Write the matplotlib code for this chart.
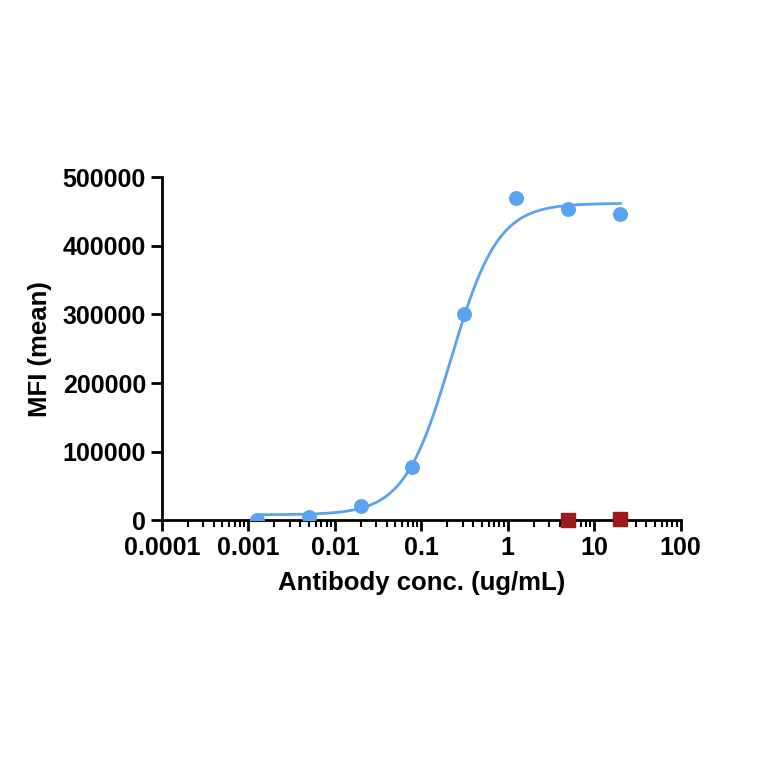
import numpy as np
import matplotlib.pyplot as plt
from matplotlib.ticker import LogLocator, FixedLocator

plt.rcParams['font.family'] = ['Liberation Sans', 'DejaVu Sans']
plt.rcParams['font.weight'] = 'bold'

conc = [0.00125, 0.005, 0.02, 0.078, 0.31, 1.25, 5.0, 20]
mfi = [1000, 5000, 21000, 78000, 300000, 470000, 453000, 447000]
ctrl_conc = [5.0, 20]
ctrl_mfi = [0, 1500]

# 4PL fit parameters
bottom, top, ec50, hill = 8000, 462000, 0.22, 1.6

fig = plt.figure(figsize=(7.64, 7.64), dpi=100)
ax = fig.add_axes([0.212, 0.319, 0.679, 0.449])

xc = np.logspace(np.log10(conc[0]), np.log10(conc[-1]), 300)
yc = bottom + (top - bottom) / (1 + (ec50 / xc) ** hill)
ax.plot(xc, yc, color='#5ba3f0', lw=2)
ax.scatter(conc, mfi, s=95, color='#5ba3f0', zorder=3)
ax.scatter(ctrl_conc, ctrl_mfi, s=95, marker='s', color='#9b1c1c', zorder=4, clip_on=False)

ax.set_xscale('log')
ax.set_xlim(0.0001, 100)
ax.set_ylim(0, 500000)
ax.set_xticks([0.0001, 0.001, 0.01, 0.1, 1, 10, 100])
ax.set_xticklabels(['0.0001', '0.001', '0.01', '0.1', '1', '10', '100'])
ax.xaxis.set_minor_locator(LogLocator(base=10, subs=np.arange(2, 10)))
ax.set_yticks(np.arange(0, 500001, 100000))
ax.set_yticklabels([str(v) for v in range(0, 500001, 100000)])

for s in ['top', 'right']:
    ax.spines[s].set_visible(False)
for s in ['left', 'bottom']:
    ax.spines[s].set_linewidth(2)
ax.tick_params(which='major', width=2, length=8, labelsize=18)
ax.tick_params(which='minor', width=1.5, length=5)
ax.minorticks_on()
ax.yaxis.set_minor_locator(FixedLocator([]))

ax.set_xlabel('Antibody conc. (ug/mL)', fontsize=18.5, fontweight='bold', labelpad=8)
ax.set_ylabel('MFI (mean)', fontsize=18.5, fontweight='bold', labelpad=8)

fig.savefig('out.png', dpi=100)
